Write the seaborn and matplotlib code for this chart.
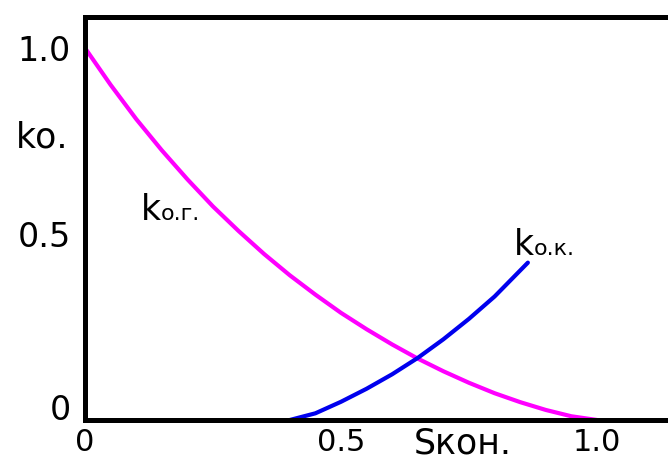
import numpy as np
import pandas as pd
import matplotlib
matplotlib.use("Agg")
import matplotlib.pyplot as plt
import matplotlib.transforms as mtransforms
import seaborn as sns

# gas relative permeability (magenta) vs condensate saturation
s_gas = [0.0, 0.05, 0.1, 0.15, 0.2, 0.25, 0.3, 0.35, 0.4, 0.45, 0.5,
         0.55, 0.6, 0.65, 0.7, 0.75, 0.8, 0.85, 0.9, 0.95, 1.0]
k_gas = [1.0, 0.901, 0.809, 0.725, 0.647, 0.574, 0.508, 0.446, 0.389, 0.337, 0.288,
         0.244, 0.203, 0.165, 0.131, 0.100, 0.072, 0.048, 0.027, 0.010, 0.0]

# condensate relative permeability (blue)
s_cond = [0.4, 0.45, 0.5, 0.55, 0.6, 0.65, 0.7, 0.75, 0.8, 0.865]
k_cond = [0.0, 0.018, 0.049, 0.084, 0.123, 0.167, 0.217, 0.272, 0.332, 0.423]

x_ticks = [0, 0.5, 1.0]
x_tick_labels = ["0", "0.5", "1.0"]
y_ticks = [0, 0.5, 1.0]
y_tick_labels = ["0", "0.5", "1.0"]

sns.set_style("white")
plt.rcParams["font.family"] = ["DejaVu Sans"]
plt.rcParams["text.color"] = "black"
plt.rcParams["xtick.color"] = "black"
plt.rcParams["ytick.color"] = "black"

W, H = 668, 462
fig = plt.figure(figsize=(W / 100, H / 100), dpi=100)
ax = fig.add_axes([85 / W, 1 - 420 / H, (700 - 85) / W, (420 - 17) / H])

gas = pd.DataFrame({"s": s_gas, "k": k_gas})
cond = pd.DataFrame({"s": s_cond, "k": k_cond})
sns.lineplot(data=gas, x="s", y="k", color="#ff00ff", linewidth=3, sort=False, ax=ax)
sns.lineplot(data=cond, x="s", y="k", color="#0000ee", linewidth=3, sort=False, ax=ax)

ax.set_xlim(0, 615 / 512)
ax.set_ylim(0, 403 / 372)
ax.set_xlabel("")
ax.set_ylabel("")

for side in ["left", "bottom", "top"]:
    ax.spines[side].set_linewidth(3.6)
    ax.spines[side].set_color("black")
ax.spines["right"].set_visible(False)

ax.set_xticks(x_ticks)
ax.set_xticklabels(x_tick_labels, fontsize=22)
ax.set_yticks(y_ticks)
ax.set_yticklabels(y_tick_labels, fontsize=24)
ax.tick_params(axis="x", length=0, pad=6)
ax.tick_params(axis="y", length=0, pad=10)
# the "0" on the y axis sits a bit above the axis line
lab0 = ax.get_yticklabels()[0]
lab0.set_transform(lab0.get_transform() + mtransforms.ScaledTranslation(0, 13 / 100, fig.dpi_scale_trans))


def ptext(x, y, s, size, **kw):
    fig.text(x / W, 1 - y / H, s, fontsize=size, va="baseline", ha="left", **kw)


ptext(16, 147, "kо.", 25)
ptext(141, 220, "k", 25)
ptext(161, 220, "о.г.", 16)
ptext(514, 255, "k", 25)
ptext(534, 255, "о.к.", 16)
ptext(414, 453, "Sкон.", 25)

fig.savefig("out.png", dpi=100)
